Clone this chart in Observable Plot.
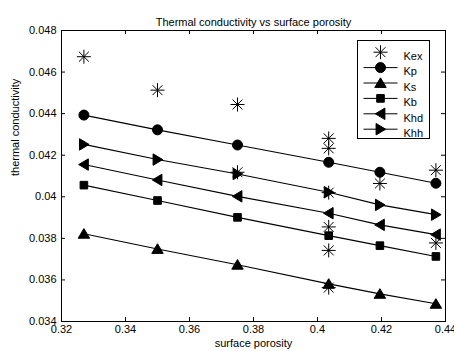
<!DOCTYPE html>
<html>
<head>
<meta charset="utf-8">
<script src="https://cdn.jsdelivr.net/npm/d3@7"></script>
<script src="https://cdn.jsdelivr.net/npm/@observablehq/plot@0.6"></script>
<style>
  html, body { margin: 0; padding: 0; background: white; overflow: hidden; }
</style>
</head>
<body>
<div id="chart"></div>
<script>
// ---- data ----
const chartTitle = "Thermal conductivity vs surface porosity";
const xLabel = "surface porosity";
const yLabel = "thermal conductivity";

const porosity = [0.327, 0.350, 0.375, 0.4035, 0.4195, 0.437];
const Kp  = [0.04393, 0.04322, 0.04249, 0.04166, 0.04118, 0.04065];
const Ks  = [0.03822, 0.03749, 0.03673, 0.03581, 0.03533, 0.03485];
const Kb  = [0.04056, 0.03982, 0.03901, 0.03813, 0.03765, 0.03713];
const Khd = [0.04155, 0.04081, 0.04002, 0.03921, 0.03865, 0.03818];
const Khh = [0.04252, 0.04179, 0.04110, 0.04022, 0.03961, 0.03914];

const KexX = [0.327, 0.350, 0.375, 0.375, 0.4035, 0.4035, 0.4035, 0.4035, 0.4035, 0.4035, 0.4195, 0.437, 0.437];
const KexY = [0.04674, 0.04513, 0.04444, 0.04118, 0.04281, 0.04233, 0.04020, 0.03855, 0.03742, 0.03563, 0.04064, 0.04128, 0.03778];

const legendNames = ["Kex", "Kp", "Ks", "Kb", "Khd", "Khh"];

const xTicks = [0.32, 0.34, 0.36, 0.38, 0.40, 0.42, 0.44];
const xTickLabels = ["0.32", "0.34", "0.36", "0.38", "0.4", "0.42", "0.44"];
const yTicks = [0.034, 0.036, 0.038, 0.040, 0.042, 0.044, 0.046, 0.048];
const yTickLabels = ["0.034", "0.036", "0.038", "0.04", "0.042", "0.044", "0.046", "0.048"];

// ---- symbols (MATLAB-like markers) ----
const rad = size => Math.sqrt(size / Math.PI);
const symStar = { draw(c, s) { const r = rad(s), d = r * Math.SQRT1_2;
  c.moveTo(-r, 0); c.lineTo(r, 0); c.moveTo(0, -r); c.lineTo(0, r);
  c.moveTo(-d, -d); c.lineTo(d, d); c.moveTo(-d, d); c.lineTo(d, -d); } };
const symCircle = { draw(c, s) { const r = rad(s); c.moveTo(r, 0); c.arc(0, 0, r, 0, 2 * Math.PI); c.closePath(); } };
const symSquare = { draw(c, s) { const r = rad(s); c.rect(-r, -r, 2 * r, 2 * r); } };
const symUp = { draw(c, s) { const r = rad(s);
  c.moveTo(0, -r); c.lineTo(r * 1.1, r * 0.85); c.lineTo(-r * 1.1, r * 0.85); c.closePath(); } };
const symLeft = { draw(c, s) { const r = rad(s);
  c.moveTo(-r, 0); c.lineTo(r * 0.85, -r * 1.1); c.lineTo(r * 0.85, r * 1.1); c.closePath(); } };
const symRight = { draw(c, s) { const r = rad(s);
  c.moveTo(r, 0); c.lineTo(-r * 0.85, -r * 1.1); c.lineTo(-r * 0.85, r * 1.1); c.closePath(); } };
const withLine = sym => ({ draw(c, s) { c.moveTo(-17, 0); c.lineTo(17, 0); sym.draw(c, s); } });

const series = [
  { name: "Kp",  values: Kp,  symbol: symCircle, r: 5 },
  { name: "Ks",  values: Ks,  symbol: symUp,     r: 5.2 },
  { name: "Kb",  values: Kb,  symbol: symSquare, r: 3.8 },
  { name: "Khd", values: Khd, symbol: symLeft,   r: 5.2 },
  { name: "Khh", values: Khh, symbol: symRight,  r: 5.2 }
];
const tidy = series.flatMap(s => porosity.map((x, i) => ({ name: s.name, x, y: s.values[i] })));
const kex = KexX.map((x, i) => ({ x, y: KexY[i] }));

const W = 454, H = 351;
const mL = 61, mR = 9, mT = 30, mB = 30;
const fw = W - mL - mR, fh = H - mT - mB;

const marks = [
  Plot.line(tidy, { x: "x", y: "y", z: "name", stroke: "black", strokeWidth: 1.1 }),
  ...series.map(s => Plot.dot(tidy.filter(d => d.name === s.name), {
    x: "x", y: "y", symbol: s.symbol, r: s.r, fill: "black", stroke: "black", strokeWidth: 1
  })),
  Plot.dot(kex, { x: "x", y: "y", symbol: symStar, r: 7, fill: "none", stroke: "black", strokeWidth: 1 }),
  // inward ticks on four sides
  Plot.tickX(xTicks, { x: d => d, insetTop: fh - 4, stroke: "black" }),
  Plot.tickX(xTicks, { x: d => d, insetBottom: fh - 4, stroke: "black" }),
  Plot.tickY(yTicks, { y: d => d, insetRight: fw - 4, stroke: "black" }),
  Plot.tickY(yTicks, { y: d => d, insetLeft: fw - 4, stroke: "black" }),
  Plot.frame({ stroke: "black", strokeWidth: 1 }),
  Plot.axisX({ ticks: xTicks, tickSize: 0, tickPadding: 4, label: null,
    tickFormat: d => xTickLabels[xTicks.indexOf(d)] }),
  Plot.axisY({ ticks: yTicks, tickSize: 0, tickPadding: 5, label: null,
    tickFormat: d => yTickLabels[yTicks.indexOf(d)] }),
  Plot.text([chartTitle], { text: d => d, frameAnchor: "top", dy: -12, fontSize: 11 }),
  Plot.text([xLabel], { text: d => d, frameAnchor: "bottom", dy: 25, fontSize: 11 }),
  Plot.text([yLabel], { text: d => d, frameAnchor: "left", dx: -46, rotate: -90, fontSize: 11 }),
  // legend
  Plot.frame({ insetLeft: 296, insetRight: 16, insetTop: 10, insetBottom: 183, fill: "white", stroke: "black", strokeWidth: 1 }),
  ...legendNames.map((name, i) => {
    const s = series.find(t => t.name === name);
    const opts = { frameAnchor: "top-right", dx: -65, dy: 21.7 + 15.4 * i, stroke: "black", strokeWidth: 1 };
    return s
      ? Plot.dot([name], { ...opts, symbol: withLine(s.symbol), r: s.r, fill: "black" })
      : Plot.dot([name], { ...opts, symbol: symStar, r: 7, fill: "none" });
  }),
  ...legendNames.map((name, i) => Plot.text([name], {
    text: d => d, frameAnchor: "top-right", dx: -42, dy: 21.7 + 15.4 * i, textAnchor: "start", fontSize: 11
  }))
];

const chart = Plot.plot({
  width: W, height: H,
  marginLeft: mL, marginRight: mR, marginTop: mT, marginBottom: mB,
  x: { domain: [0.32, 0.44] },
  y: { domain: [0.034, 0.048] },
  style: { fontFamily: "'Liberation Sans', Arial, sans-serif", fontSize: "11px", color: "black", background: "white" },
  marks
});
document.getElementById("chart").appendChild(chart);
</script>
</body>
</html>
